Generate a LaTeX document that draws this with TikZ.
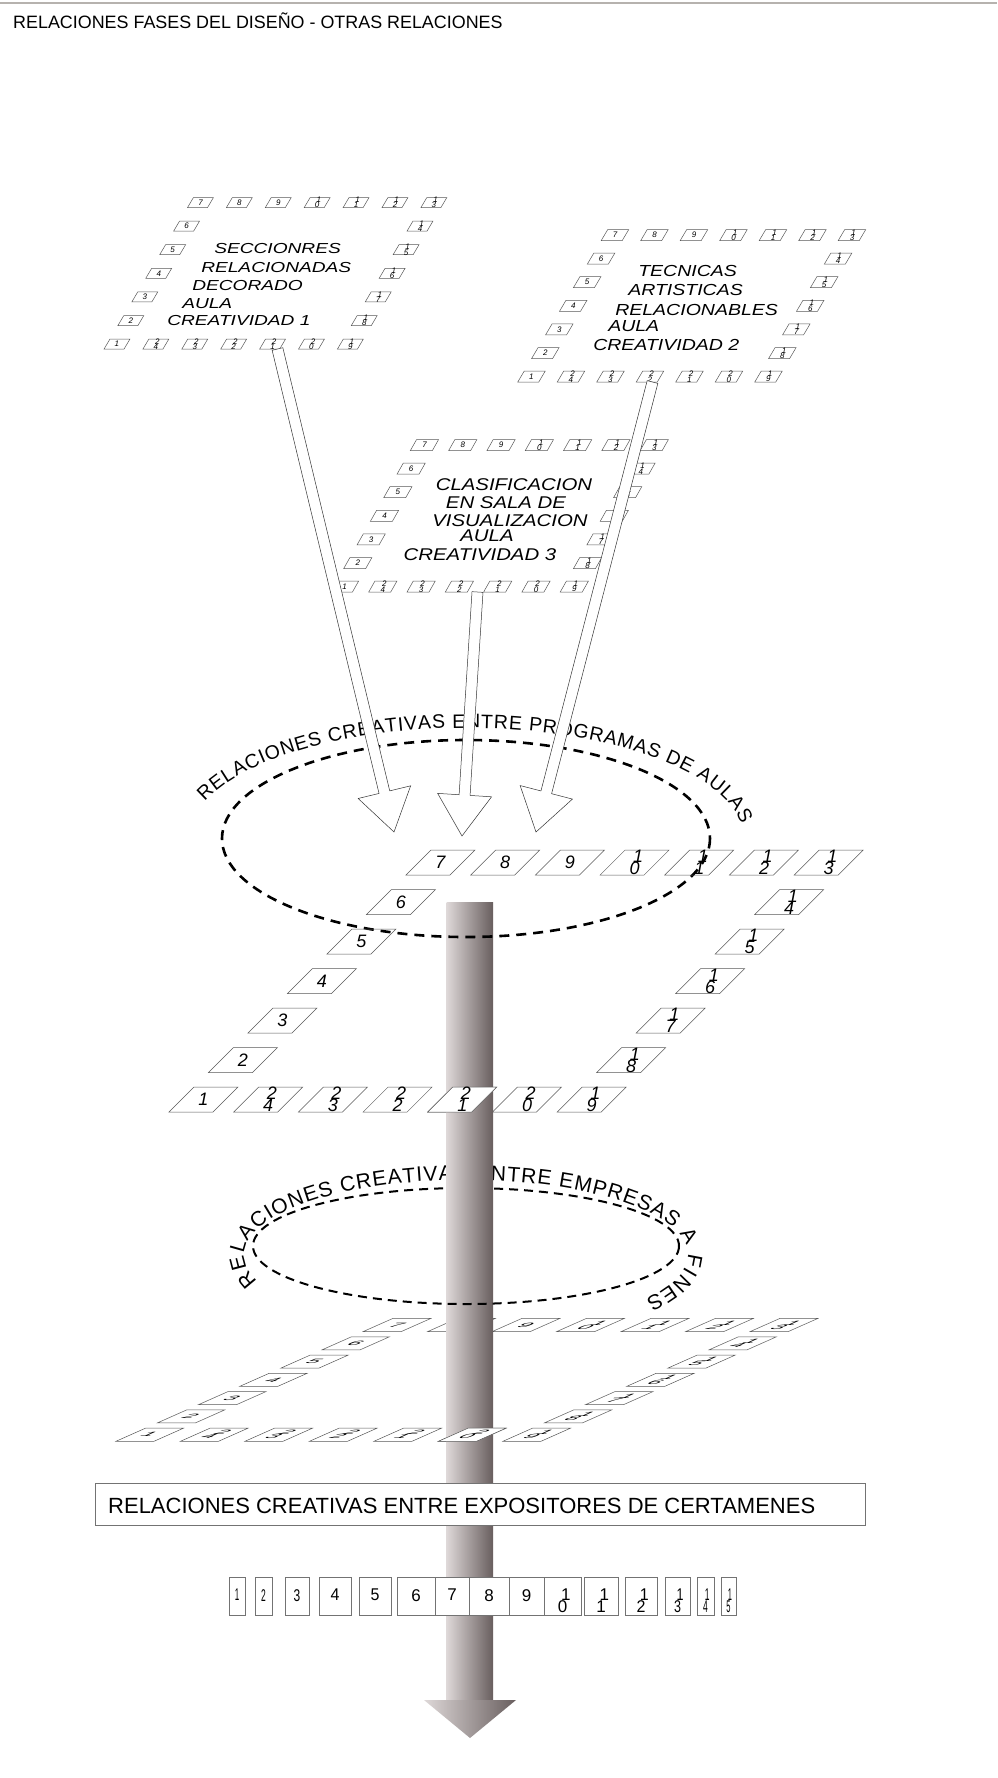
\documentclass[tikz,border=0pt]{standalone}
\usepackage{fontspec}
\setmainfont{Liberation Sans}
\usetikzlibrary{calc,decorations.text}

\definecolor{polelight}{RGB}{222,216,216}
\definecolor{poledark}{RGB}{104,94,94}
\definecolor{rulegray}{RGB}{182,178,174}

% number/column/row of the 24 tiles round a plane
\newcommand\ringlist{1/0/6,2/0/5,3/0/4,4/0/3,5/0/2,6/0/1,7/0/0,8/1/0,9/2/0,10/3/0,11/4/0,12/5/0,13/6/0,14/6/1,15/6/2,16/6/3,17/6/4,18/6/5,19/6/6,20/5/6,21/4/6,22/3/6,23/2/6,24/1/6}
% two digit numbers: one digit over the other
\newcommand\tilenum[1]{\ifnum#1<10 #1\else\makebox[0pt][l]{\hspace*{.2em}\raisebox{.33em}{\the\numexpr(#1-5)/10\relax}}\raisebox{-.33em}{\the\numexpr#1-10*((#1-5)/10)\relax}\fi}
% tiles of one plane, uses \pitchx \pitchy \tilew \tileh
\newcommand\tilering[2]{%
  \foreach \n/\col/\row in \ringlist {
    \draw[tile] ({\col*\pitchx-\tilew},{\row*\pitchy-\tileh}) -- ({\col*\pitchx+\tilew},{\row*\pitchy-\tileh})
      -- ({\col*\pitchx+\tilew},{\row*\pitchy+\tileh}) -- ({\col*\pitchx-\tilew},{\row*\pitchy+\tileh}) -- cycle;
    \node[#2] (#1\n) at ({\col*\pitchx},{\row*\pitchy}) {\tilenum{\n}};
  }}

\begin{document}
\begin{tikzpicture}[x=1pt, y=-1pt,
  tile/.style={draw=black!65, line width=.5pt},
  numsmall/.style={font=\itshape\fontsize{8}{9}\selectfont, inner sep=0pt},
  numbig/.style={font=\itshape\fontsize{18}{20}\selectfont, inner sep=0pt},
  numflat/.style={font=\fontsize{22}{24}\selectfont, inner sep=0pt, transform shape},
  stripnum/.style={font=\fontsize{17}{19}\selectfont, inner sep=0pt, anchor=north},
  planetext/.style={font=\itshape\fontsize{#1}{#1}\selectfont, inner sep=0pt},
  arctext/.style 2 args={decorate, decoration={text along path, text align=fit to path, text={|\fontsize{#1}{#1}\selectfont|#2}}},
  flow/.style={draw=black!80, fill=white, line width=.5pt},
  bigring/.style={line width=2.6pt, dash pattern=on 10pt off 7pt},
  smallring/.style={line width=2pt, dash pattern=on 9pt off 6pt},
  pole/.style={left color=polelight, right color=poledark},
  stripbox/.style={draw=black!55, fill=white, line width=.5pt},
  bigplane/.style={shift={(440.5,862.5)}, xslant=1},
  flatplane/.style={shift={(397,1325)}, yscale=.284, xslant=.64}
]

\path[use as bounding box, fill=white] (0,0) rectangle (997,1778);
\draw[rulegray, line width=1.4pt] (0,3) -- (997,3);
\node[anchor=base west, inner sep=0pt, font=\fontsize{17.9}{20}\selectfont] (title) at (13,28) {RELACIONES FASES DEL DISEÑO - OTRAS RELACIONES};

% aula 1
\begin{scope}[shift={(200.5,202.5)}, xslant=.59]
  \def\pitchx{38.9}\def\pitchy{23.6}\def\tilew{10}\def\tileh{5}
  \tilering{a}{numsmall}
\end{scope}
\foreach \t/\x/\y [count=\i] in {SECCIONRES/214/253, RELACIONADAS/201/272, DECORADO/192/290, AULA/182/308, CREATIVIDAD 1/167/325}
  \node[planetext=14.5, xscale=1.32, anchor=base west] (ta\i) at (\x,\y) {\t};

% aula 2
\begin{scope}[shift={(615,235)}, xslant=.59]
  \def\pitchx{39.5}\def\pitchy{23.6}\def\tilew{10.5}\def\tileh{5.5}
  \tilering{b}{numsmall}
\end{scope}
\foreach \t/\x/\y [count=\i] in {TECNICAS/638/276, ARTISTICAS/628/295, RELACIONABLES/615/315, AULA/608/331, CREATIVIDAD 2/593/350}
  \node[planetext=16, xscale=1.22, anchor=base west] (tb\i) at (\x,\y) {\t};

% aula 3
\begin{scope}[shift={(424.5,445)}, xslant=.565]
  \def\pitchx{38.3}\def\pitchy{23.6}\def\tilew{11}\def\tileh{5.5}
  \tilering{c}{numsmall}
\end{scope}
\foreach \t/\x/\y [count=\i] in {CLASIFICACION/514/490, EN SALA DE/506/508, VISUALIZACION/510/526, AULA/487/541, CREATIVIDAD 3/480/560}
  \node[planetext=17, xscale=1.2, anchor=base] (tc\i) at (\x,\y) {\t};

% programas de aulas
\path[arctext={19.5}{RELACIONES CREATIVAS ENTRE PROGRAMAS DE AULAS}] (466,840) ++(-160:278 and 112) arc[start angle=-160, end angle=-8, x radius=278, y radius=112];
\draw[bigring] (466,838.5) ellipse[x radius=244, y radius=98.5];

\foreach \i/\ax/\ay/\bx/\by in {1/277.5/349/394/832, 2/477.5/592/462/836, 3/652.5/382/536/832} {
  \coordinate (t\i) at (\ax,\ay);
  \coordinate (p\i) at (\bx,\by);
  \coordinate (h\i) at ($(p\i)!41pt!(t\i)$);
  \draw[flow] ($(t\i)!5.5pt!90:(p\i)$) -- ($(h\i)!5.5pt!90:(p\i)$) -- ($(h\i)!27pt!90:(p\i)$) -- (p\i)
    -- ($(h\i)!27pt!-90:(p\i)$) -- ($(h\i)!5.5pt!-90:(p\i)$) -- ($(t\i)!5.5pt!-90:(p\i)$) -- cycle;
}

\begin{scope}[bigplane]
  \def\pitchx{64.7}\def\pitchy{39.5}\def\tilew{22}\def\tileh{12.5}
  \tilering{d}{numbig}
\end{scope}

% empresas a fines
\path[arctext={21}{RELACIONES CREATIVAS ENTRE EMPRESAS A FINES}] (466,1255) ++(-200:222 and 75) arc[start angle=-200, end angle=36, x radius=222, y radius=75];
\draw[smallring] (466,1246) ellipse[x radius=213, y radius=58];

\begin{scope}[flatplane]
  \def\pitchx{64.5}\def\pitchy{64.4}\def\tilew{19}\def\tileh{23}
  \tilering{e}{numflat}
\end{scope}

% the pole
\shade[pole] (446.5,902) rectangle (493,1700);
\shade[pole] (424,1700) -- (516,1700) -- (470,1738) -- cycle;

\begin{scope}[bigplane]
  \filldraw[tile, fill=white] (236.8,224.5) -- (280.8,224.5) -- (280.8,249.5) -- (236.8,249.5) -- cycle;
  \node[numbig] (d21f) at (258.8,237) {\tilenum{21}};
\end{scope}
\begin{scope}[flatplane]
  \filldraw[tile, fill=white] (303.5,363.4) -- (341.5,363.4) -- (341.5,409.4) -- (303.5,409.4) -- cycle;
  \node[numflat] (e20f) at (322.5,386.4) {\tilenum{20}};
\end{scope}
\begin{scope}
  \clip (446.5,900) rectangle (493,945);
  \draw[bigring] (466,838.5) ellipse[x radius=244, y radius=98.5];
\end{scope}
\begin{scope}
  \clip (446.5,1262) rectangle (493,1310);
  \draw[smallring] (466,1246) ellipse[x radius=213, y radius=58];
\end{scope}

% expositores
\draw[stripbox] (95,1483) rectangle (865,1525);
\node[anchor=base west, inner sep=0pt, font=\fontsize{22}{24}\selectfont] (cert) at (108,1513) {RELACIONES CREATIVAS ENTRE EXPOSITORES DE CERTAMENES};
\foreach \n/\xa/\xb in {1/229/245, 2/255/272, 3/285/309, 4/319/351, 5/359/391, 6/397/435, 7/435/469, 8/469/509, 9/509/544, 10/544/581, 11/584/618, 12/625/657, 13/665/690, 14/697/714, 15/721/736} {
  \draw[stripbox] (\xa,1577) rectangle (\xb,1615);
  \node[stripnum, xscale={min(1,(\xb-\xa)/34)}] (s\n) at ({(\xa+\xb)/2},1589) {\tilenum{\n}};
}

\end{tikzpicture}
\end{document}
